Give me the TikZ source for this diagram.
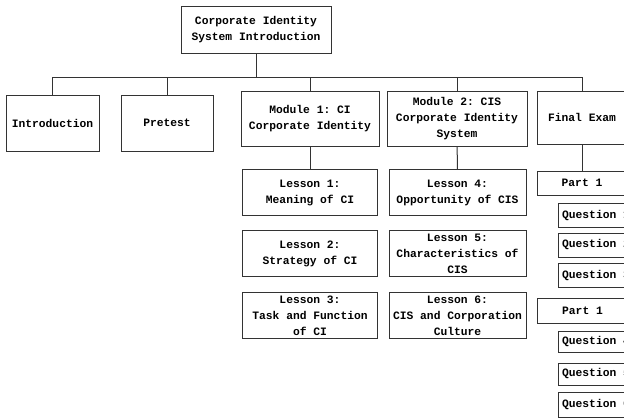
\documentclass[tikz,border=0pt]{standalone}
\usepackage{fontspec}
\setmonofont{Liberation Mono}
\usetikzlibrary{positioning}
\tikzset{
  cisbox/.style = {draw=black!80, line width=1pt, fill=white, align=center,
    inner sep=0pt, font=\ttfamily\bfseries\fontsize{11.3}{16}\selectfont},
  modbox/.style = {cisbox, minimum width=138pt, minimum height=55pt},
  lesbox/.style = {cisbox, minimum width=135pt, minimum height=46pt},
  partbox/.style = {cisbox, minimum width=90pt, minimum height=24pt},
  qbox/.style = {cisbox, minimum width=76pt, minimum height=24pt},
  link/.style = {draw=black!80, line width=1pt},
}

\begin{document}
\begin{tikzpicture}[x=1pt,y=-1pt]
\useasboundingbox (0,0) rectangle (624,418);
\node [cisbox, minimum width=150pt, minimum height=47pt] (cis) at (256,29.5) {Corporate Identity\\System Introduction};
\node [cisbox, minimum width=93pt, minimum height=56pt] (intro) at (52.5,123) {Introduction};
\node [cisbox, minimum width=92pt, minimum height=56pt] (pretest) at (167,123) {Pretest};
\node [modbox] (mod1) at (310,118.5) {Module 1: CI\\Corporate Identity};
\node [modbox, minimum width=140pt] (mod2) at (457,118.5) {Module 2: CIS\\Corporate Identity\\System};
\node [modbox, minimum width=90pt, minimum height=53pt] (exam) at (582,117.5) {Final Exam};
% lessons under the two modules
\node [lesbox] (les1) at (310,192.5) {Lesson 1:\\Meaning of CI};
\node [lesbox] (les2) [below=14pt of les1] {Lesson 2:\\Strategy of CI};
\node [lesbox] (les3) [below=15pt of les2] {Lesson 3:\\Task and Function\\of CI};
\node [lesbox, minimum width=137pt] (les4) at (457.5,192.5) {Lesson 4:\\Opportunity of CIS};
\node [lesbox, minimum width=137pt] (les5) [below=14pt of les4] {Lesson 5:\\Characteristics of\\CIS};
\node [lesbox, minimum width=137pt] (les6) [below=15pt of les5] {Lesson 6:\\CIS and Corporation\\Culture};
% exam parts and questions
\node [partbox] (part1) at (582,183) {Part 1};
\node [qbox] (q1) at (596,215.5) {Question 1};
\node [qbox] (q2) at (596,245) {Question 2};
\node [qbox] (q3) at (596,275.5) {Question 3};
\node [partbox, minimum height=25pt] (part2) at (582.5,310.5) {Part 1};
\node [qbox, minimum height=21pt] (q4) at (596,342) {Question 4};
\node [qbox, minimum height=22pt] (q5) at (596,374) {Question 5};
\node [qbox, minimum height=25pt] (q6) at (596,404.5) {Question 6};
\coordinate (bus) at (256,77);
\draw [link] (cis) -- (bus);
\draw [link] (bus -| intro) -- (bus -| exam);
\foreach \n in {intro,pretest,mod1,mod2,exam}
  \draw [link] (bus -| \n) -- (\n);
\draw [link] (mod1) -- (les1);
\draw [link] (mod2) -- (les4);
\draw [link] (exam) -- (part1);
\end{tikzpicture}
\end{document}
